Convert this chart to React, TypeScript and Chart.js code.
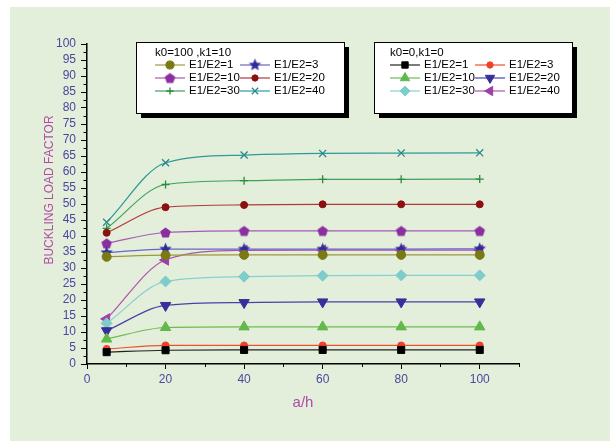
import React, { useEffect, useRef } from 'react';
import { Chart, registerables } from 'chart.js';
import { drawPoint } from 'chart.js/helpers';

Chart.register(...registerables);

// ---- data ----
const aOverH = [5, 20, 40, 60, 80, 100];
const xTickValues = [0, 20, 40, 60, 80, 100];
const legendTitleTop = 'k0=100 ,k1=10';
const legendTitleBottom = 'k0=0,k1=0';
const yAxisTitle = 'BUCKLING LOAD FACTOR';
const xAxisTitle = 'a/h';
const ratioLabels = ['E1/E2=1', 'E1/E2=3', 'E1/E2=10', 'E1/E2=20', 'E1/E2=30', 'E1/E2=40'];

// k0=100, k1=10
const k100_r1 = [33.5, 34.0, 34.1, 34.1, 34.1, 34.1];
const k100_r3 = [34.8, 35.9, 35.9, 35.9, 35.9, 36.0];
const k100_r10 = [37.7, 41.1, 41.6, 41.6, 41.6, 41.6];
const k100_r20 = [41.0, 49.0, 49.7, 49.9, 49.9, 49.9];
const k100_r30 = [42.4, 56.1, 57.3, 57.7, 57.7, 57.8];
const k100_r40 = [44.3, 62.9, 65.3, 65.8, 65.9, 66.0];

// k0=0, k1=0
const k0_r1 = [3.7, 4.3, 4.4, 4.4, 4.4, 4.4];
const k0_r3 = [4.7, 5.8, 5.8, 5.8, 5.8, 5.8];
const k0_r10 = [7.8, 11.4, 11.6, 11.6, 11.6, 11.6];
const k0_r20 = [10.4, 18.3, 19.2, 19.4, 19.4, 19.4];
const k0_r30 = [12.7, 25.8, 27.3, 27.6, 27.7, 27.7];
const k0_r40 = [14.1, 32.5, 35.5, 35.6, 35.6, 35.6];

const FONT = "'Liberation Sans', Arial, sans-serif";
const TITLE_COLOR = '#b04ca6';

function makeShape(kind: 'star' | 'pentagon', color: string, r: number): HTMLCanvasElement {
  const s = Math.ceil(r * 2 + 4);
  const c = document.createElement('canvas');
  c.width = s;
  c.height = s;
  const ctx = c.getContext('2d')!;
  const cx = s / 2;
  const cy = s / 2;
  ctx.fillStyle = color;
  ctx.beginPath();
  if (kind === 'star') {
    const inner = r * 0.45;
    for (let i = 0; i < 10; i++) {
      const rad = i % 2 === 0 ? r : inner;
      const a = -Math.PI / 2 + (i * Math.PI) / 5;
      const px = cx + rad * Math.cos(a);
      const py = cy + rad * Math.sin(a);
      if (i === 0) ctx.moveTo(px, py);
      else ctx.lineTo(px, py);
    }
  } else {
    for (let i = 0; i < 5; i++) {
      const a = -Math.PI / 2 + (i * 2 * Math.PI) / 5;
      const px = cx + r * Math.cos(a);
      const py = cy + r * Math.sin(a) + 0.5;
      if (i === 0) ctx.moveTo(px, py);
      else ctx.lineTo(px, py);
    }
  }
  ctx.closePath();
  ctx.fill();
  return c;
}

function series(label: string, data: number[], line: string, marker: string, style: any, radius: number, rotation = 0, bw = 1) {
  return {
    label,
    data: aOverH.map((x, i) => ({ x, y: data[i] })),
    borderColor: line,
    borderWidth: 1.2,
    backgroundColor: marker,
    pointBackgroundColor: marker,
    pointBorderColor: marker,
    pointBorderWidth: bw,
    pointStyle: style,
    pointRadius: radius,
    pointHoverRadius: radius,
    pointRotation: rotation,
    cubicInterpolationMode: 'monotone',
    fill: false,
  };
}

const bgPlugin = {
  id: 'bg',
  beforeDraw(chart: any) {
    const { ctx, width, height } = chart;
    ctx.save();
    ctx.fillStyle = '#ffffff';
    ctx.fillRect(0, 0, width, height);
    ctx.fillStyle = '#e3efdb';
    ctx.fillRect(10, 7, width - 10, height - 7);
    ctx.restore();
  },
};

const minorTickPlugin = {
  id: 'minorTicks',
  afterDraw(chart: any) {
    const { ctx } = chart;
    const xs = chart.scales.x;
    const ys = chart.scales.y;
    ctx.save();
    ctx.strokeStyle = '#000';
    ctx.lineWidth = 1;
    ctx.beginPath();
    for (let v = 10; v <= 110; v += 20) {
      const px = Math.round(xs.getPixelForValue(v)) + 0.5;
      ctx.moveTo(px, ys.bottom);
      ctx.lineTo(px, ys.bottom + 3);
    }
    for (let v = 2.5; v < 100; v += 5) {
      const py = Math.round(ys.getPixelForValue(v)) + 0.5;
      ctx.moveTo(xs.left, py);
      ctx.lineTo(xs.left - 3.5, py);
    }
    ctx.stroke();
    // y axis title
    ctx.translate(50, 190);
    ctx.rotate(-Math.PI / 2);
    ctx.font = `12px ${FONT}`;
    ctx.fillStyle = TITLE_COLOR;
    ctx.textAlign = 'center';
    ctx.textBaseline = 'middle';
    ctx.fillText(yAxisTitle, 0, 0);
    ctx.restore();
  },
};

const legendBoxPlugin = {
  id: 'legendBoxes',
  afterDraw(chart: any) {
    const { ctx } = chart;
    const ds = chart.data.datasets;
    const boxes = [
      { x: 136, y: 42, w: 208, h: 71, title: legendTitleTop, start: 0, col1: 155, col2: 240, lineLen: 30 },
      { x: 374, y: 42, w: 198, h: 71, title: legendTitleBottom, start: 6, col1: 390, col2: 475, lineLen: 30 },
    ];
    ctx.save();
    for (const b of boxes) {
      ctx.fillStyle = '#000';
      ctx.fillRect(b.x + 5, b.y + 5, b.w, b.h);
      ctx.fillStyle = '#fff';
      ctx.fillRect(b.x, b.y, b.w, b.h);
      ctx.strokeStyle = '#000';
      ctx.lineWidth = 1;
      ctx.strokeRect(b.x + 0.5, b.y + 0.5, b.w, b.h);
      ctx.font = `11.5px ${FONT}`;
      ctx.fillStyle = '#000';
      ctx.textBaseline = 'middle';
      ctx.textAlign = 'left';
      ctx.fillText(b.title, b.col1, b.y + 11);
      for (let i = 0; i < 6; i++) {
        const d = ds[b.start + i];
        const row = Math.floor(i / 2);
        const col = i % 2;
        const lx = col === 0 ? b.col1 : b.col2;
        const ly = b.y + 23 + row * 13;
        ctx.strokeStyle = d.borderColor;
        ctx.lineWidth = d.borderWidth;
        ctx.beginPath();
        ctx.moveTo(lx, ly);
        ctx.lineTo(lx + b.lineLen, ly);
        ctx.stroke();
        ctx.fillStyle = d.pointBackgroundColor;
        ctx.strokeStyle = d.pointBorderColor;
        ctx.lineWidth = d.pointBorderWidth;
        drawPoint(ctx, { pointStyle: d.pointStyle, rotation: d.pointRotation, radius: d.pointRadius * 0.9, borderWidth: d.pointBorderWidth }, lx + b.lineLen / 2, ly);
        ctx.fillStyle = '#000';
        ctx.fillText(d.label, lx + b.lineLen + 4, ly);
      }
    }
    ctx.restore();
  },
};

export default function App() {
  const ref = useRef<HTMLCanvasElement>(null);
  useEffect(() => {
    const star = makeShape('star', '#2e2c9c', 6.5);
    const pent = makeShape('pentagon', '#8a2ea0', 5.5);
    const datasets = [
      series(ratioLabels[0], k100_r1, '#9a9a3c', '#7a7a14', 'circle', 4.5),
      series(ratioLabels[1], k100_r3, '#6a66c4', '#2e2c9c', star, 5),
      series(ratioLabels[2], k100_r10, '#a45ab4', '#8a2ea0', pent, 5),
      series(ratioLabels[3], k100_r20, '#b03a3a', '#8c1010', 'circle', 3.5),
      series(ratioLabels[4], k100_r30, '#3ea05a', '#2a8c3c', 'cross', 4, 0, 1.3),
      series(ratioLabels[5], k100_r40, '#2e9a9a', '#2a8a8a', 'crossRot', 5, 0, 1.3),
      series(ratioLabels[0], k0_r1, '#222222', '#000000', 'rect', 5),
      series(ratioLabels[1], k0_r3, '#f0502c', '#f0402a', 'circle', 3.5),
      series(ratioLabels[2], k0_r10, '#6cbc50', '#62b84a', 'triangle', 6),
      series(ratioLabels[3], k0_r20, '#4a40a8', '#3a2e9a', 'triangle', 6, 180),
      series(ratioLabels[4], k0_r30, '#86d0d0', '#7ecccc', 'rectRot', 5.5),
      series(ratioLabels[5], k0_r40, '#b050b0', '#a040a4', 'triangle', 6, -90),
    ];
    const chart = new Chart(ref.current!, {
      type: 'line',
      data: { datasets },
      options: {
        animation: false,
        responsive: false,
        layout: { padding: { top: 44, right: 91, left: 0, bottom: 0 } },
        plugins: { legend: { display: false }, tooltip: { enabled: false } },
        scales: {
          x: {
            type: 'linear',
            min: 0,
            max: 110,
            afterFit: (s: any) => { s.height = 77; },
            ticks: {
              stepSize: 20,
              includeBounds: false,
              autoSkip: false,
              maxRotation: 0,
              color: '#4b479e',
              font: { family: FONT, size: 12 },
              padding: 3,
              callback: (v: any) => (xTickValues.includes(v) ? String(v) : ''),
            },
            grid: { drawOnChartArea: false, drawTicks: true, tickLength: 5, color: '#000', tickColor: '#000' },
            border: { display: true, color: '#000', width: 1.5 },
            title: {
              display: true,
              text: xAxisTitle,
              color: TITLE_COLOR,
              font: { family: FONT, size: 15 },
              padding: { top: 0, bottom: 29 },
            },
          },
          y: {
            type: 'linear',
            min: 0,
            max: 100,
            afterFit: (s: any) => { s.width = 87; },
            ticks: {
              stepSize: 5,
              autoSkip: false,
              color: '#4b479e',
              font: { family: FONT, size: 12 },
              padding: 5,
            },
            grid: { drawOnChartArea: false, drawTicks: true, tickLength: 6, color: '#000', tickColor: '#000' },
            border: { display: true, color: '#000', width: 1.5 },
          },
        },
      },
      plugins: [bgPlugin, minorTickPlugin, legendBoxPlugin],
    });
    return () => chart.destroy();
  }, []);
  return (
    <div style={{ position: 'absolute', left: 0, top: 0, width: 610, height: 441 }}>
      <canvas ref={ref} width={610} height={441} style={{ display: 'block' }} />
    </div>
  );
}
